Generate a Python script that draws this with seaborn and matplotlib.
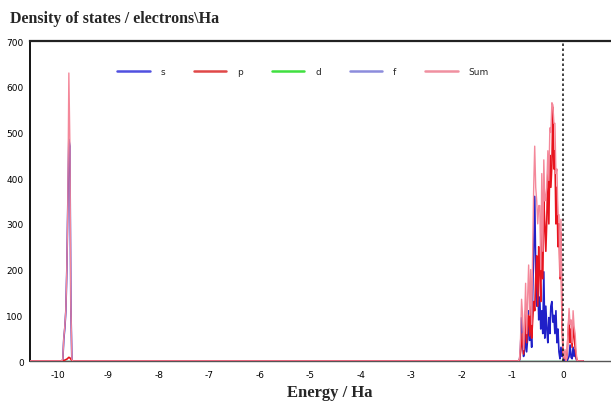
import numpy as np
import pandas as pd
import matplotlib
matplotlib.use("Agg")
import matplotlib.pyplot as plt
from matplotlib.ticker import MultipleLocator
from matplotlib.lines import Line2D
import seaborn as sns

# Core (deep) peak near -9.8 Ha
core_energy = [-9.92, -9.90, -9.88, -9.86, -9.84, -9.82, -9.80, -9.78, -9.76, -9.74, -9.72, -9.70]
core_s = [0, 3, 48, 72, 108, 198, 343, 485, 470, 118, 2, 0]
core_p = [0, 0, 1, 2, 3, 4, 6, 8, 7, 4, 1, 0]
core_sum = [0, 5, 50, 75, 110, 200, 345, 630, 480, 120, 3, 0]

# Valence band near the Fermi level
val_energy = [-0.88, -0.86, -0.84, -0.82, -0.80, -0.78, -0.76, -0.74, -0.72, -0.70,
              -0.68, -0.66, -0.64, -0.62, -0.60, -0.58, -0.56, -0.54, -0.52, -0.50,
              -0.48, -0.46, -0.44, -0.42, -0.40, -0.38, -0.36, -0.34, -0.32, -0.30,
              -0.28, -0.26, -0.24, -0.22, -0.20, -0.18, -0.16, -0.14, -0.12, -0.10,
              -0.08, -0.06, -0.04, -0.02, 0.00, 0.02, 0.04, 0.06, 0.08, 0.10,
              0.12, 0.14, 0.16, 0.18, 0.20, 0.22, 0.24, 0.26, 0.28, 0.30]
val_s = [0, 2, 30, 95, 40, 10, 25, 60, 20, 50,
         110, 45, 80, 30, 150, 250, 360, 200, 120, 180,
         90, 140, 70, 110, 60, 195, 50, 120, 70, 40,
         95, 60, 120, 130, 85, 100, 60, 110, 40, 70,
         20, 5, 30, 10, 15, 0, 2, 0, 0, 5,
         10, 35, 8, 5, 30, 10, 25, 5, 0, 0]
val_p = [0, 3, 20, 40, 60, 15, 60, 110, 40, 90,
         100, 55, 120, 50, 90, 130, 110, 180, 230, 120,
         250, 200, 130, 300, 180, 350, 300, 240, 310, 420,
         300, 450, 380, 430, 555, 420, 460, 300, 380, 250,
         300, 180, 280, 80, 20, 5, 20, 0, 10, 60,
         95, 40, 70, 30, 80, 55, 30, 10, 0, 0]
val_sum = [0, 5, 50, 135, 100, 25, 85, 170, 60, 140,
           210, 100, 200, 80, 240, 380, 470, 380, 350, 300,
           340, 340, 200, 410, 240, 440, 350, 360, 380, 460,
           395, 510, 500, 565, 560, 520, 520, 410, 420, 320,
           320, 185, 310, 90, 35, 5, 25, 0, 10, 70,
           115, 80, 90, 40, 110, 75, 60, 20, 0, 0]

# d and f contributions are flat zero over the whole range
flat_energy = [-10.60, 0.40]
d_dos = [0, 0]
f_dos = [0, 0]

energy = [-10.60] + core_energy + val_energy + [0.40]
s_dos = [0] + core_s + val_s + [0]
p_dos = [0] + core_p + val_p + [0]
sum_dos = [0] + core_sum + val_sum + [0]

colors = {"s": "#2020c8", "p": "#e8141e", "d": "#22dd22", "f": "#8a8ae0", "Sum": "#f4889a"}

sns.set_style("white")

fig = plt.figure(figsize=(6.11, 4.02), dpi=100)
ax = fig.add_axes([0.049, 0.0995, 0.951, 0.796])

# draw order: flat d/f first, then s, p, and the pink Sum on top
series = [
    ("d", flat_energy, d_dos, 1, 1.0),
    ("f", flat_energy, f_dos, 2, 1.0),
    ("s", energy, s_dos, 3, 1.2),
    ("p", energy, p_dos, 4, 1.2),
    ("Sum", energy, sum_dos, 5, 1.0),
]
for name, xs, ys, z, w in series:
    df = pd.DataFrame({"energy": xs, "dos": ys})
    sns.lineplot(data=df, x="energy", y="dos", color=colors[name], lw=w,
                 estimator=None, sort=False, ax=ax, zorder=z, legend=False)

ax.axvline(0, color="#222222", ls=(0, (1.5, 1.5)), lw=1.2, zorder=6)

ax.set_xlim(-10.55, 0.95)
ax.set_ylim(0, 700)
ax.xaxis.set_major_locator(MultipleLocator(1))
ax.xaxis.set_minor_locator(MultipleLocator(0.5))
ax.yaxis.set_major_locator(MultipleLocator(100))
ax.yaxis.set_minor_locator(MultipleLocator(50))
ax.tick_params(axis="both", which="both", direction="inout", colors="#333333",
               labelsize=6.5, labelcolor="black")
ax.tick_params(axis="both", which="major", length=5, width=0.9)
ax.tick_params(axis="both", which="minor", length=4, width=0.9)
ax.tick_params(axis="x", pad=4)
ax.tick_params(axis="y", pad=2)
ax.set_xticks(ax.get_xticks())
ax.set_xticklabels([f"{int(round(v))}" for v in ax.get_xticks()])
for lab in ax.get_xticklabels() + ax.get_yticklabels():
    lab.set_fontfamily("DejaVu Sans")

ax.spines["right"].set_visible(False)
ax.spines["top"].set_linewidth(1.6)
ax.spines["top"].set_color("#222222")
ax.spines["left"].set_linewidth(1.3)
ax.spines["left"].set_color("black")
ax.spines["bottom"].set_linewidth(1.0)
ax.spines["bottom"].set_color("#555555")
ax.set_xlabel("")
ax.set_ylabel("")
ax.set_xlim(-10.55, 0.95)

order = ["s", "p", "d", "f", "Sum"]
legend_colors = {"s": "#5050e0", "p": "#e04848", "d": "#40e040", "f": "#8c8cdc", "Sum": "#f090a0"}
handles = [Line2D([], [], color=legend_colors[k], lw=1.8) for k in order]
ax.legend(handles, order, ncol=5, frameon=False,
          loc="center", bbox_to_anchor=(0.47, 0.905), fontsize=6.5,
          handlelength=3.6, columnspacing=3.2, handletextpad=1.2)

fig.text(0.016, 0.952, "Density of states / electrons\\Ha", fontfamily="Liberation Serif",
         fontweight="bold", fontsize=11.5, va="center", ha="left")
fig.text(0.54, 0.022, "Energy / Ha", fontfamily="Liberation Serif",
         fontweight="bold", fontsize=12, va="center", ha="center")

fig.savefig("out.png", dpi=100)
